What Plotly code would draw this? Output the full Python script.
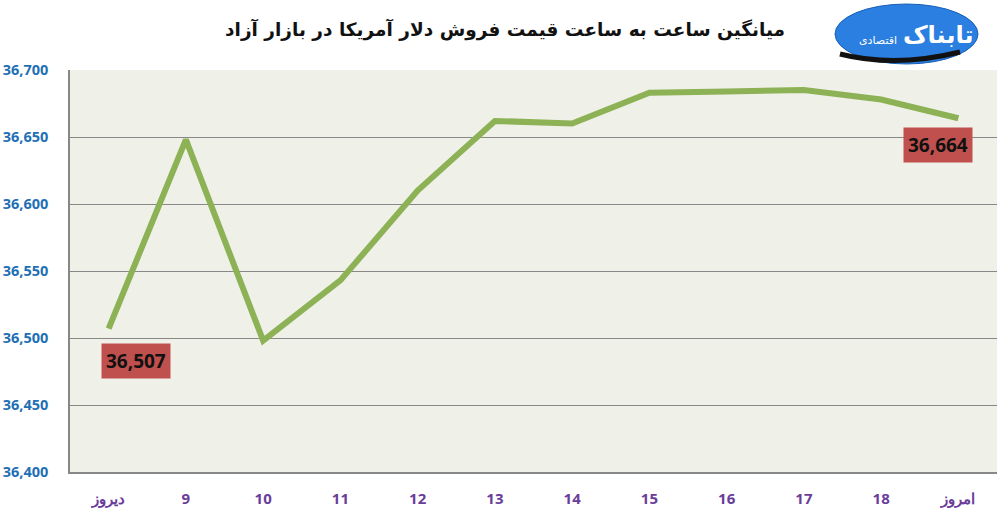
import plotly.graph_objects as go

categories = ['دیروز', '9', '10', '11', '12', '13', '14', '15', '16', '17', '18', 'امروز']
prices = [36507, 36648, 36498, 36543, 36610, 36662, 36660, 36683, 36684, 36685, 36678, 36664]
y_ticks = [36400, 36450, 36500, 36550, 36600, 36650, 36700]

# page body margin is dropped (see post_script), so pixels map 1:1
W, H = 1004, 512
L, T = 70, 70
R = W - 997
B = H - 472
pw, ph = W - L - R, H - T - B


def px_x(x):
    # screen pixel -> paper fraction
    return (x - L) / pw


def px_y(y):
    return (H - B - y) / ph


fig = go.Figure()

fig.add_trace(go.Scatter(
    x=list(range(len(categories))),
    y=prices,
    mode='lines',
    line=dict(color='#8DB255', width=6),
    hoverinfo='y',
    showlegend=False
))

# labels for first and last point
fig.add_annotation(
    x=0, y=prices[0], xref='x', yref='y',
    text='<b>{:,}</b>'.format(prices[0]), showarrow=False,
    yshift=-32, xshift=27,
    font=dict(family='Open Sans, sans-serif', size=19, color='#111111'),
    bgcolor='#C0504D', borderpad=4
)
fig.add_annotation(
    x=len(categories) - 1, y=prices[-1], xref='x', yref='y',
    text='<b>{:,}</b>'.format(prices[-1]), showarrow=False,
    yshift=-27, xshift=-20,
    font=dict(family='Open Sans, sans-serif', size=19, color='#111111'),
    bgcolor='#C0504D', borderpad=4
)

# logo-ish badge
fig.add_shape(
    type='circle', xref='paper', yref='paper',
    x0=px_x(835), x1=px_x(978),
    y0=px_y(64), y1=px_y(4),
    fillcolor='#2A7FE0', line=dict(color='#1B5FB8', width=1)
)
fig.add_shape(
    type='path', xref='paper', yref='paper',
    path='M {:.4f},{:.4f} Q {:.4f},{:.4f} {:.4f},{:.4f}'.format(
        px_x(840), px_y(54), px_x(895), px_y(68), px_x(960), px_y(52)),
    line=dict(color='#111111', width=5)
)
fig.add_annotation(
    x=px_x(938), y=px_y(35), xref='paper', yref='paper',
    xanchor='center', yanchor='middle',
    text='<b>تابناک</b>', showarrow=False,
    font=dict(family='DejaVu Sans, sans-serif', size=24, color='white')
)
fig.add_annotation(
    x=px_x(878), y=px_y(40), xref='paper', yref='paper',
    xanchor='center', yanchor='middle',
    text='اقتصادی', showarrow=False,
    font=dict(family='DejaVu Sans, sans-serif', size=11, color='white')
)

fig.update_layout(
    width=W,
    height=H,
    margin=dict(l=L, r=R, t=T, b=B, autoexpand=False),
    paper_bgcolor='white',
    plot_bgcolor='#EFF1E9',
    title=dict(
        text='<b>میانگین ساعت به ساعت قیمت فروش دلار آمریکا در بازار آزاد</b>',
        x=505 / W, xanchor='center',
        y=1 - 30 / H, yanchor='middle',
        font=dict(family='DejaVu Sans, sans-serif', size=18.5, color='#111111')
    ),
    xaxis=dict(
        range=[-0.5, len(categories) - 0.5],
        tickvals=list(range(len(categories))),
        ticktext=categories,
        showgrid=False,
        showline=True, linecolor='#888888', linewidth=1.5,
        zeroline=False,
        ticks='',
        tickfont=dict(family='Open Sans, sans-serif', size=15, color='#6A3D9A', weight='bold'),
        ticklabelstandoff=12,
        automargin=False,
        fixedrange=True
    ),
    yaxis=dict(
        range=[36400, 36700],
        tickvals=y_ticks,
        tickformat=',d',
        showgrid=True, gridcolor='#888888', gridwidth=1,
        showline=True, linecolor='#888888', linewidth=1.5,
        zeroline=False,
        ticks='',
        tickfont=dict(family='Open Sans, sans-serif', size=14.5, color='#1F6FB5', weight='bold'),
        ticklabelstandoff=17,
        automargin=False,
        fixedrange=True
    )
)

fig.write_html('out.html', config={'displayModeBar': False},
               post_script="document.body.style.margin='0';")
